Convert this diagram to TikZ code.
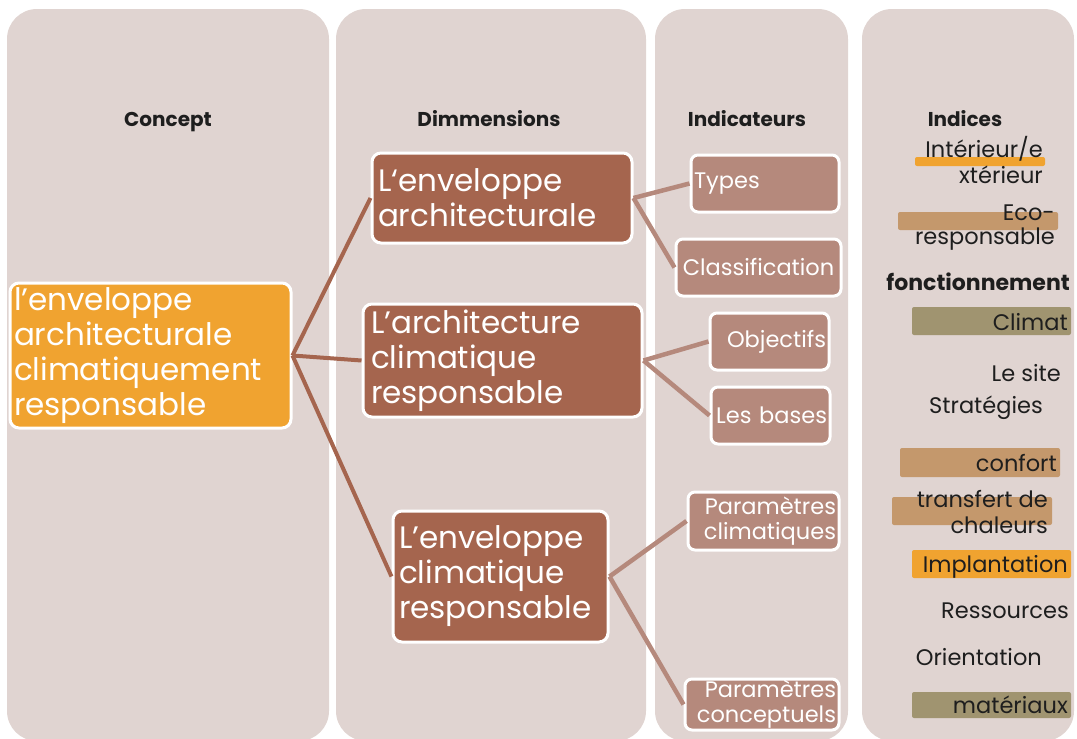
\documentclass[tikz,border=0pt]{standalone}
\usepackage{fontspec}
\setmainfont{Poppins}

\definecolor{fondcol}{HTML}{E0D4D1}
\definecolor{orangevif}{HTML}{F0A330}
\definecolor{brique}{HTML}{A5654E}
\definecolor{rosebrun}{HTML}{B5897C}
\definecolor{ocre}{HTML}{C4986C}
\definecolor{olive}{HTML}{A09470}
\definecolor{encre}{HTML}{1E1E1E}

\begin{document}
\begin{tikzpicture}[x=1pt, y=-1pt,
    colonne/.style={fill=fondcol, rounded corners=30pt, inner sep=0pt, outer sep=0pt},
    titre/.style={anchor=base, font=\fontsize{20}{24}\selectfont\bfseries, text=encre},
    grandbloc/.style={draw=white, line width=3pt, rounded corners=9pt, text=white,
        font=\fontsize{31}{35}\selectfont, align=left, inner ysep=0pt},
    petitbloc/.style={draw=white, line width=3pt, rounded corners=7pt, fill=rosebrun, text=white,
        font=\fontsize{22.5}{25}\selectfont, inner xsep=3pt, inner ysep=0pt},
    barre/.style={rounded corners=2pt, inner sep=0pt},
    indice/.style={anchor=base east, align=right, text=encre, inner sep=0pt,
        font=\fontsize{22.5}{26}\selectfont},
    lien/.style={brique, line width=4pt},
    sous lien/.style={rosebrun, line width=4.5pt}]

    \useasboundingbox (0,0) rectangle (1077,739);

    % Les quatre colonnes du fond
    \node (col1) [colonne, minimum width=322, minimum height=732] at (168,375) {};
    \node (col2) [colonne, minimum width=310, minimum height=732] at (491,375) {};
    \node (col3) [colonne, minimum width=193, minimum height=732] at (751.5,375) {};
    \node (col4) [colonne, minimum width=212, minimum height=732] at (968,375) {};

    % Titres des colonnes
    \node (tconcept) [titre] at (168,126) {Concept};
    \node (tdim) [titre] at (489,126) {Dimmensions};
    \node (tind) [titre] at (747,126) {Indicateurs};
    \node (tindices) [titre] at (965,126) {Indices};

    % Le concept
    \node (concept) [grandbloc, fill=orangevif, text width=273pt, inner xsep=4pt, minimum height=145]
        at (150.5,355.5) {l’enveloppe\\architecturale\\climatiquement\\responsable};

    % Les dimensions
    \node (dim1) [grandbloc, fill=brique, text width=248pt, inner xsep=6pt, minimum height=90]
        at (502,198) {L‘enveloppe\\architecturale};
    \node (dim2) [grandbloc, fill=brique, text width=263pt, inner xsep=8pt, minimum height=113]
        at (502.5,360.5) {L’architecture\\climatique\\responsable};
    \node (dim3) [grandbloc, fill=brique, text width=203pt, inner xsep=6pt, minimum height=131]
        at (500.5,576.5) {L’enveloppe\\climatique\\responsable};

    % Les indicateurs
    \node (types) [petitbloc, text width=142pt, align=left, minimum height=57] at (765,183.5) {Types};
    \node (classif) [petitbloc, text width=159pt, align=center, minimum height=57] at (758.5,267.5) {Classification};
    \node (objectifs) [petitbloc, text width=113pt, align=right, minimum height=57] at (769.5,341.5) {Objectifs};
    \node (bases) [petitbloc, text width=113pt, align=right, minimum height=57] at (770.5,415.5) {Les bases};
    \node (pclim) [petitbloc, text width=145pt, align=right, minimum height=58] at (763.5,521) {Paramètres\\climatiques};
    \node (pconc) [petitbloc, text width=148pt, align=right, minimum height=51] at (762,704.5) {Paramètres\\conceptuels};

    % Liens concept - dimensions
    \draw [lien] (concept.east) -- (dim1.west);
    \draw [lien] (concept.east) -- (dim2.west);
    \draw [lien] (concept.east) -- (dim3.west);

    % Liens dimensions - indicateurs
    \draw [sous lien] (dim1.east) -- (types.west);
    \draw [sous lien] (dim1.east) -- (classif.west);
    \draw [sous lien] (dim2.east) -- (objectifs.west);
    \draw [sous lien] (dim2.east) -- (bases.west);
    \draw [sous lien] (dim3.east) -- (pclim.west);
    \draw [sous lien] (dim3.east) -- (pconc.west);

    % Bandes de couleur sous les indices
    \node (bint) [barre, fill=orangevif, minimum width=130, minimum height=9] at (980,161.5) {};
    \node (beco) [barre, fill=ocre, minimum width=160, minimum height=18] at (978,221) {};
    \node (bclimat) [barre, fill=olive, minimum width=159, minimum height=28] at (991.5,321) {};
    \node (bconfort) [barre, fill=ocre, minimum width=160, minimum height=29] at (980,462.5) {};
    \node (btransfert) [barre, fill=ocre, minimum width=160, minimum height=28] at (972,511) {};
    \node (bimpl) [barre, fill=orangevif, minimum width=159, minimum height=28] at (991.5,564) {};
    \node (bmat) [barre, fill=olive, minimum width=159, minimum height=26] at (991.5,705) {};

    % Les indices
    \node (iint) [indice] at (1043,183) {Intérieur/e\\xtérieur};
    \node (ieco) [indice, font=\fontsize{22.5}{24}\selectfont] at (1055,244) {Eco-\\responsable};
    \node (ifonct) [indice, font=\fontsize{22}{24}\selectfont\bfseries] at (1070,290) {fonctionnement};
    \node (iclimat) [indice] at (1068,330) {Climat};
    \node (isite) [indice] at (1061,381) {Le site};
    \node (istrat) [indice] at (1043,413) {Stratégies};
    \node (iconfort) [indice] at (1057,471) {confort};
    \node (itransfert) [indice] at (1048,533) {transfert de\\chaleurs};
    \node (iimpl) [indice] at (1068,572) {Implantation};
    \node (iress) [indice] at (1069,618) {Ressources};
    \node (iorient) [indice] at (1042,665) {Orientation};
    \node (imat) [indice] at (1068,713) {matériaux};

\end{tikzpicture}
\end{document}
